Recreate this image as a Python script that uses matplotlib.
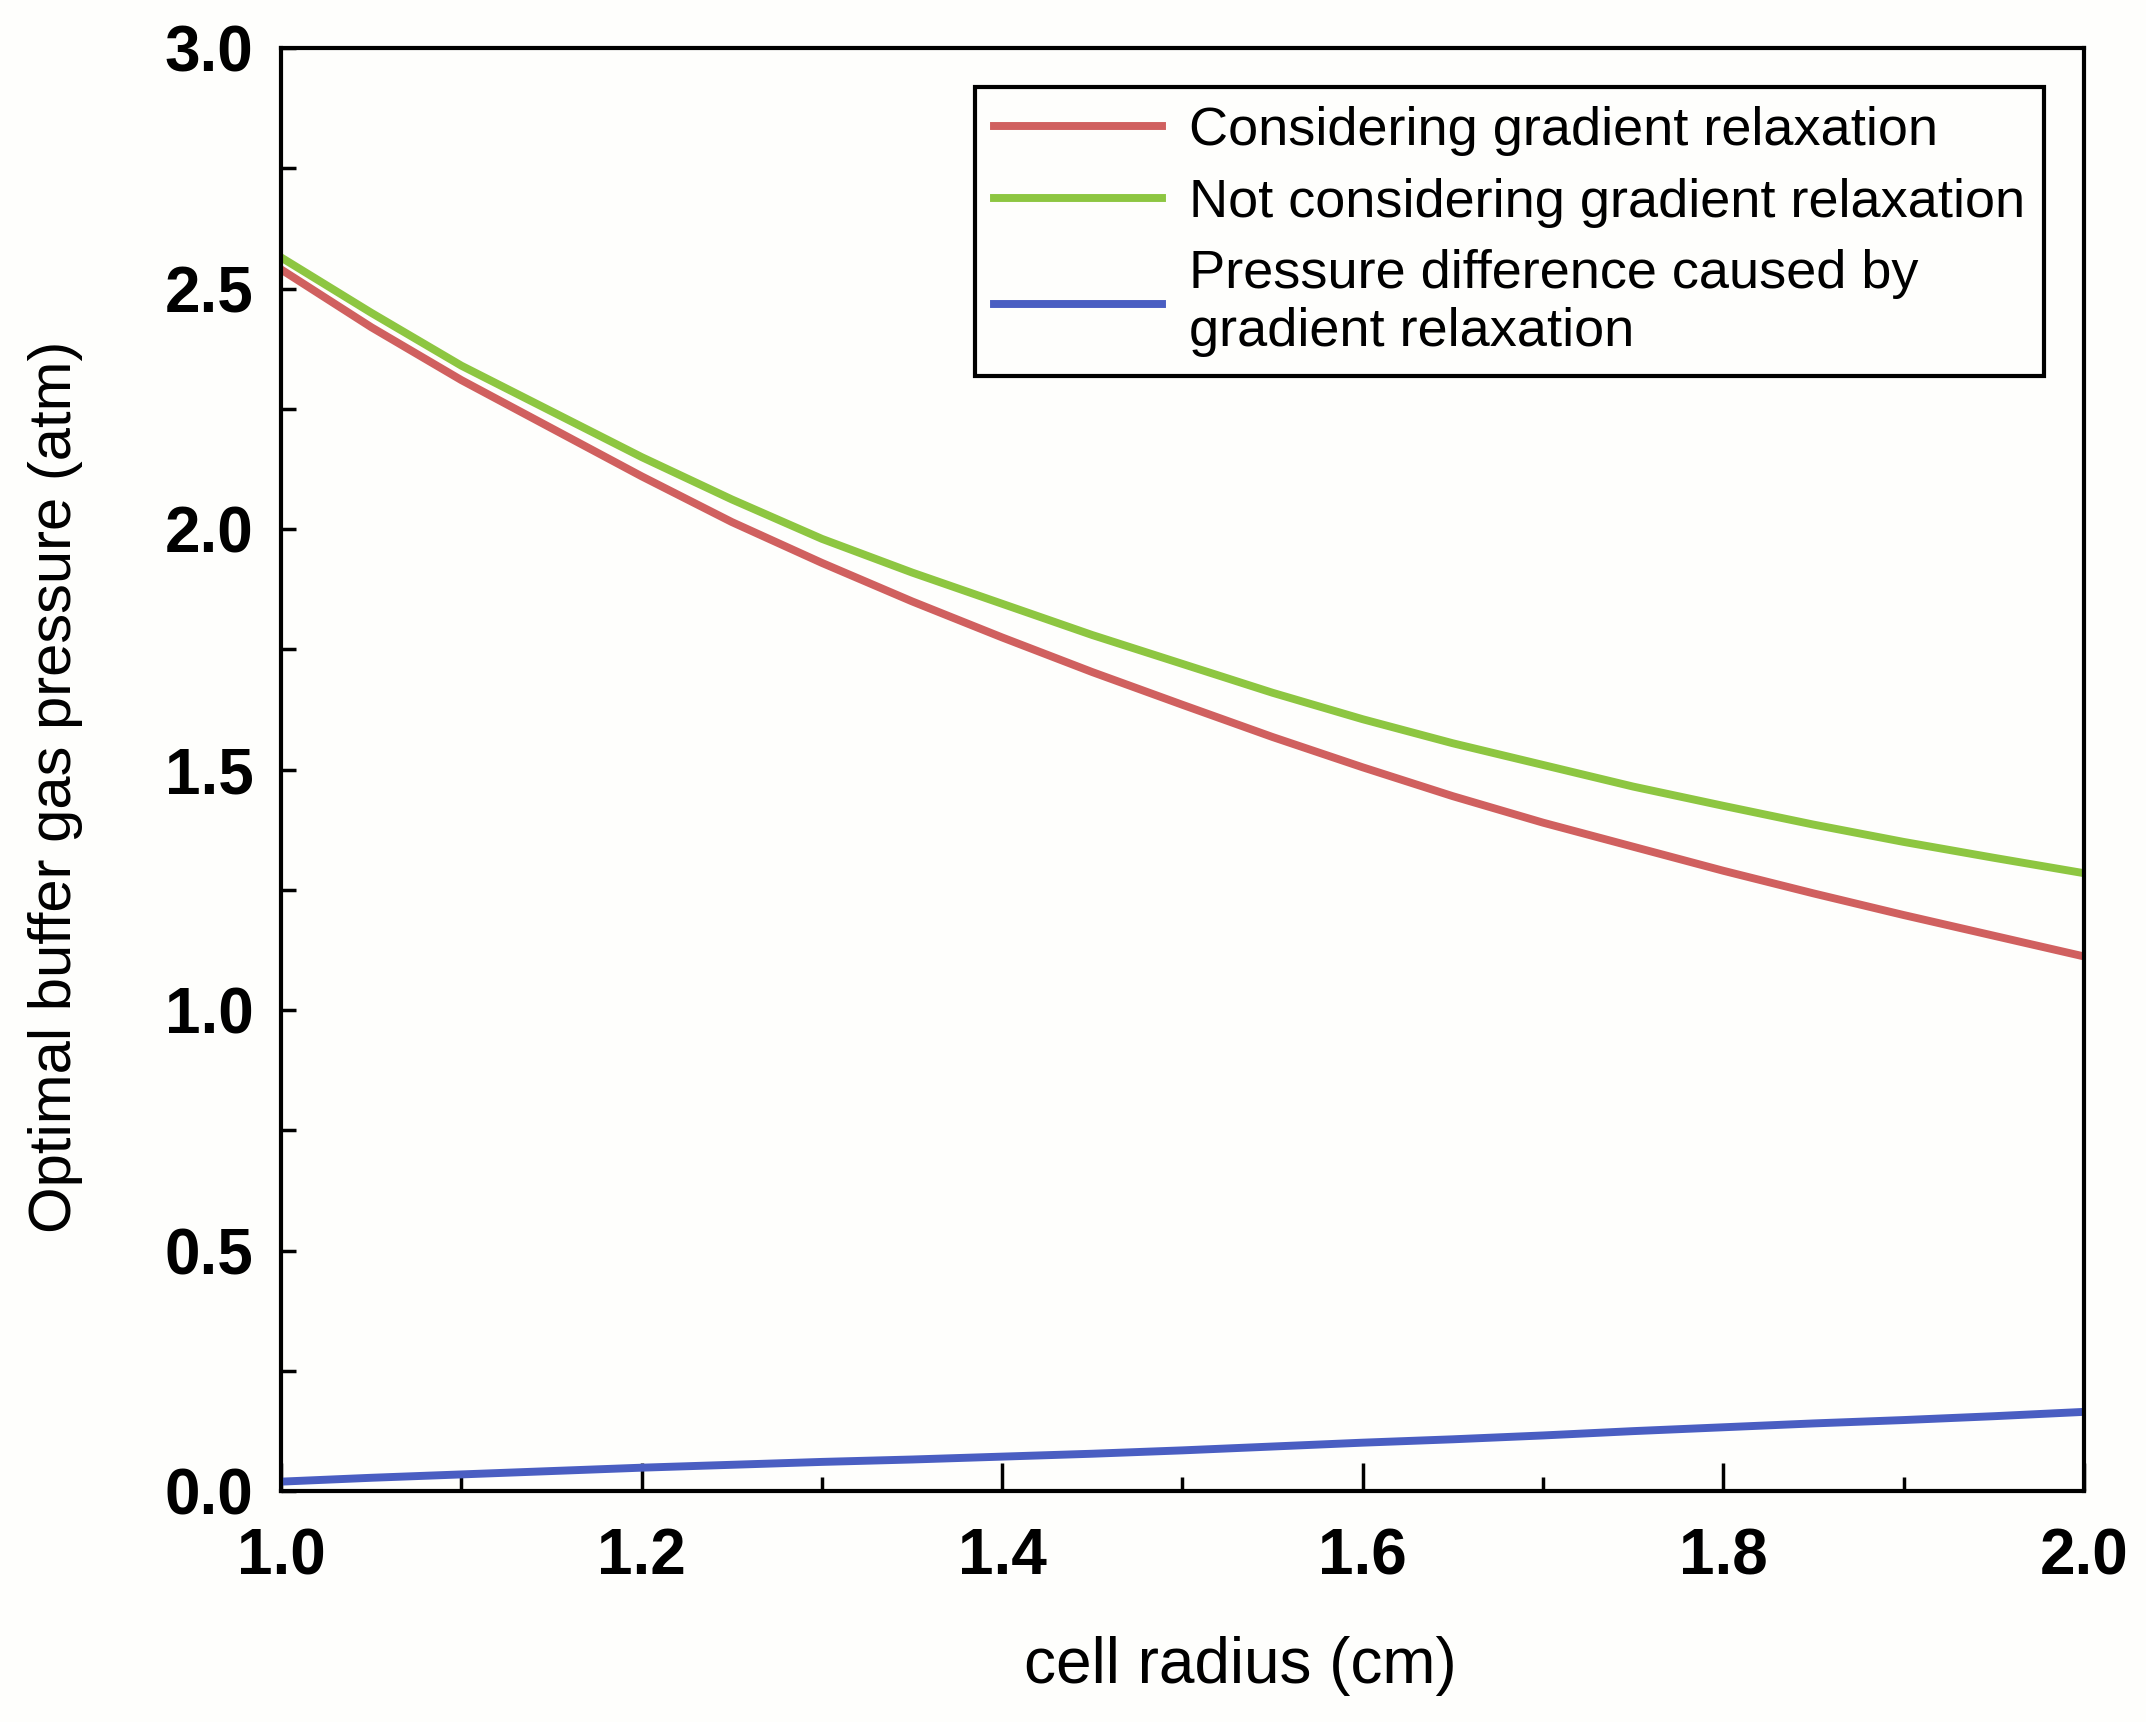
import numpy as np
import matplotlib
matplotlib.use("Agg")
import matplotlib.pyplot as plt
from matplotlib.ticker import MultipleLocator, FormatStrFormatter

# ------------------------------
# Data
# ------------------------------
radius = [1.00, 1.05, 1.10, 1.15, 1.20, 1.25, 1.30, 1.35, 1.40, 1.45, 1.50,
          1.55, 1.60, 1.65, 1.70, 1.75, 1.80, 1.85, 1.90, 1.95, 2.00]
p_with_gradient = [2.54, 2.42, 2.31, 2.21, 2.11, 2.015, 1.93, 1.85, 1.775, 1.703, 1.635,
                   1.568, 1.505, 1.445, 1.39, 1.34, 1.29, 1.243, 1.198, 1.155, 1.112]
p_without_gradient = [2.565, 2.45, 2.34, 2.245, 2.15, 2.062, 1.98, 1.91, 1.845, 1.78, 1.72,
                      1.66, 1.605, 1.555, 1.51, 1.465, 1.425, 1.386, 1.35, 1.317, 1.285]
p_difference = [0.02, 0.028, 0.035, 0.042, 0.049, 0.055, 0.061, 0.066, 0.072, 0.078, 0.085,
                0.093, 0.101, 0.108, 0.116, 0.125, 0.133, 0.141, 0.148, 0.156, 0.165]

labels = [
    "Considering gradient relaxation",
    "Not considering gradient relaxation",
    "Pressure difference caused by\ngradient relaxation",
]
colors = ["#d0605f", "#8dc641", "#4a5ec2"]

plt.rcParams["font.family"] = ["Liberation Sans", "DejaVu Sans"]

bg = "#fefefc"
fig = plt.figure(figsize=(21.46, 17.22), dpi=100, facecolor=bg)
ax = fig.add_axes([0.131, 0.134, 0.840, 0.838])
ax.set_facecolor(bg)

for y, lab, c in zip([p_with_gradient, p_without_gradient, p_difference], labels, colors):
    ax.plot(radius, y, color=c, lw=5.7, label=lab)

ax.set_xlim(1.0, 2.0)
ax.set_ylim(0.0, 3.0)
ax.xaxis.set_major_locator(MultipleLocator(0.2))
ax.xaxis.set_minor_locator(MultipleLocator(0.1))
ax.yaxis.set_major_locator(MultipleLocator(0.5))
ax.yaxis.set_minor_locator(MultipleLocator(0.25))
ax.xaxis.set_major_formatter(FormatStrFormatter("%.1f"))
ax.yaxis.set_major_formatter(FormatStrFormatter("%.1f"))

ax.tick_params(which="both", direction="in", top=False, right=False, width=2.5)
ax.tick_params(axis="x", which="major", length=20, labelsize=46, pad=26)
ax.tick_params(axis="x", which="minor", length=10)
ax.tick_params(axis="y", which="both", length=11)
ax.tick_params(axis="y", which="major", labelsize=46, pad=20)
for lbl in ax.get_xticklabels() + ax.get_yticklabels():
    lbl.set_fontweight("bold")
for s in ax.spines.values():
    s.set_linewidth(3)

ax.set_xlabel("cell radius (cm)", fontsize=46)
ax.set_ylabel("Optimal buffer gas pressure (atm)", fontsize=43)
ax.xaxis.set_label_coords(0.532, -0.100)
ax.yaxis.set_label_coords(-0.110, 0.488)

leg = ax.legend(loc="upper right", bbox_to_anchor=(0.978, 0.973), borderaxespad=0,
                fontsize=39, frameon=True, fancybox=False, edgecolor="black",
                handlelength=3.1, handletextpad=0.5, borderpad=0.35, labelspacing=0.4)
leg.get_frame().set_linewidth(3)
leg.get_frame().set_facecolor(bg)
leg.get_frame().set_alpha(1)

plt.savefig("out.png", dpi=100, facecolor=fig.get_facecolor())
